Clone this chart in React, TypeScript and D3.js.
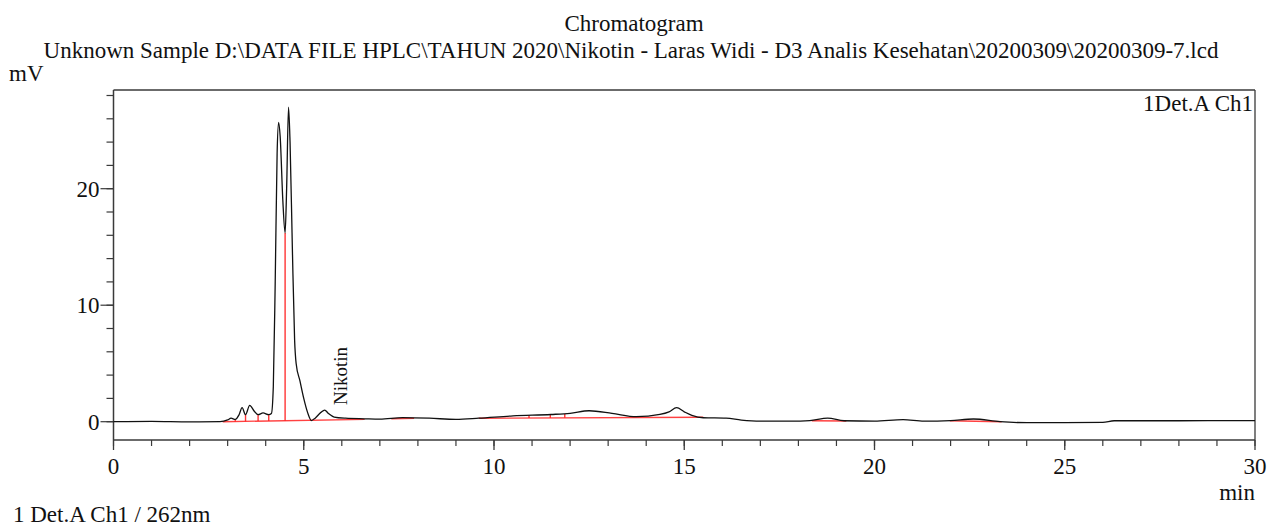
import React from "react";
import * as d3 from "d3";

const TITLE = "Chromatogram";
const SUBTITLE =
  "Unknown Sample D:\\DATA FILE HPLC\\TAHUN 2020\\Nikotin - Laras Widi - D3 Analis Kesehatan\\20200309\\20200309-7.lcd";
const Y_UNIT = "mV";
const X_UNIT = "min";
const CHANNEL_LABEL = "1Det.A Ch1";
const FOOTER = "1 Det.A Ch1 / 262nm";

const X_MAJOR_TICKS = [0, 5, 10, 15, 20, 25, 30];
const X_MINOR_TICKS = d3.range(0, 31, 1);
const Y_MAJOR_TICKS = [0, 10, 20];
const Y_MINOR_TICKS = d3.range(0, 29, 2);

// signal (time in min, mV)
const times = [
  0, 1.0, 2.0, 2.8, 3.0, 3.09, 3.2, 3.3, 3.38, 3.47, 3.58, 3.7, 3.8, 3.93, 4.08, 4.15, 4.2, 4.25, 4.3, 4.34, 4.38,
  4.45, 4.51, 4.55, 4.6, 4.64, 4.7, 4.76, 4.8, 4.9, 5.0, 5.1, 5.2, 5.3, 5.45, 5.55, 5.65, 5.8, 6.1, 6.6, 7.0, 7.6,
  8.3, 9.0, 9.6, 10.5, 11.5, 12.0, 12.5, 13.1, 13.74, 14.36, 14.6, 14.8, 15.0, 15.2, 15.5, 16.1, 16.5, 17.0, 17.8,
  18.3, 18.77, 19.2, 20.0, 20.75, 21.3, 22.0, 22.6, 23.3, 24.0, 25.0, 26.0, 26.3, 28.0, 30.0,
];
const signal = [
  0.0, 0.02, -0.02, 0.0, 0.15, 0.3, 0.2, 0.6, 1.2, 0.6, 1.4, 0.9, 0.6, 0.75, 0.6, 0.7, 3.0, 12.0, 23.0, 25.7, 24.5,
  19.0, 16.2, 20.0, 27.0, 24.0, 15.0, 7.0, 5.0, 3.5, 2.0, 0.8, 0.1, 0.3, 0.8, 1.0, 0.7, 0.4, 0.3, 0.25, 0.22, 0.35,
  0.3, 0.2, 0.3, 0.5, 0.62, 0.72, 0.94, 0.72, 0.43, 0.63, 0.85, 1.2, 0.85, 0.55, 0.34, 0.3, 0.14, 0.05, 0.05, 0.1,
  0.3, 0.08, 0.05, 0.18, 0.05, 0.1, 0.23, 0.0, -0.08, -0.08, -0.05, 0.08, 0.08, 0.1,
];

// integration baselines: start time, start mV, end time, end mV
const baseStartT = [2.87, 7.3, 9.6, 18.35, 21.98];
const baseStartV = [0.0, 0.25, 0.3, 0.08, 0.08];
const baseEndT = [6.6, 7.9, 15.5, 19.26, 23.34];
const baseEndV = [0.2, 0.3, 0.38, 0.06, 0.0];

// drop lines: time and signal mV at the drop
const dropT = [3.2, 3.47, 3.8, 4.08, 4.51, 10.92, 11.48, 11.86];
const dropV = [0.2, 0.6, 0.6, 0.6, 16.2, 0.55, 0.62, 0.66];

const PEAK_NAME = "Nikotin";
const PEAK_T = 5.55;
const PEAK_V = 1.0;

const W = 1269;
const H = 529;
const L = 113.5;
const R = 1255;
const T = 90;
const B = 440;

export default function App() {
  const x = d3.scaleLinear().domain([0, 30]).range([L, R]);
  const y = d3.scaleLinear().domain([0, 28]).range([421.7, 421.7 - 28 * 11.65]);

  const data = times.map((t, i) => [t, signal[i]] as [number, number]);
  const line = d3
    .line<[number, number]>()
    .x((d) => x(d[0]))
    .y((d) => y(d[1]))
    .curve(d3.curveMonotoneX);

  const baseAt = (t: number) => {
    for (let i = 0; i < baseStartT.length; i++) {
      if (t >= baseStartT[i] && t <= baseEndT[i]) {
        const f = (t - baseStartT[i]) / (baseEndT[i] - baseStartT[i]);
        return baseStartV[i] + f * (baseEndV[i] - baseStartV[i]);
      }
    }
    return 0;
  };

  const font = "'Liberation Serif', 'Times New Roman', serif";
  const axisColor = "#3a3a3a";
  const red = "#ff2020";
  const fs = 23;

  return (
    <svg
      width={W}
      height={H}
      style={{ position: "absolute", left: 0, top: 0, background: "#fff" }}
      fontFamily={font}
    >
      <rect x={0} y={0} width={W} height={H} fill="#fff" />
      <text x={634} y={31} fontSize={fs} textAnchor="middle" fill="#111">
        {TITLE}
      </text>
      <text x={631} y={58} fontSize={fs} textAnchor="middle" fill="#111">
        {SUBTITLE}
      </text>
      <text x={9} y={81} fontSize={fs} fill="#111">
        {Y_UNIT}
      </text>

      {/* frame */}
      <line x1={L} x2={R} y1={T} y2={T} stroke={axisColor} strokeWidth={1.3} />
      <line x1={R} x2={R} y1={T} y2={B} stroke={axisColor} strokeWidth={1.3} />
      <line x1={L} x2={L} y1={T} y2={B} stroke={axisColor} strokeWidth={1.5} />
      <line x1={L} x2={R} y1={B} y2={B} stroke={axisColor} strokeWidth={1.5} />

      {/* y ticks */}
      {Y_MINOR_TICKS.map((v) => (
        <line key={"ym" + v} x1={L - 7} x2={L} y1={y(v)} y2={y(v)} stroke={axisColor} strokeWidth={1.2} />
      ))}
      {Y_MAJOR_TICKS.map((v) => (
        <g key={"yM" + v}>
          <line x1={L - 13} x2={L} y1={y(v)} y2={y(v)} stroke={axisColor} strokeWidth={1.2} />
          <text x={L - 14} y={y(v) + 8} fontSize={fs} textAnchor="end" fill="#111">
            {v}
          </text>
        </g>
      ))}

      {/* x ticks */}
      {X_MINOR_TICKS.map((v) => (
        <line key={"xm" + v} x1={x(v)} x2={x(v)} y1={B} y2={B + 6} stroke={axisColor} strokeWidth={1.2} />
      ))}
      {X_MAJOR_TICKS.map((v) => (
        <g key={"xM" + v}>
          <line x1={x(v)} x2={x(v)} y1={B} y2={B + 10} stroke={axisColor} strokeWidth={1.3} />
          <text x={x(v)} y={474} fontSize={fs} textAnchor="middle" fill="#111">
            {v}
          </text>
        </g>
      ))}
      <text x={1255} y={500} fontSize={fs} textAnchor="end" fill="#111">
        {X_UNIT}
      </text>

      <text x={1253} y={111} fontSize={fs} textAnchor="end" fill="#111">
        {CHANNEL_LABEL}
      </text>

      {/* integration baselines */}
      {baseStartT.map((t, i) => (
        <line
          key={"b" + i}
          x1={x(t)}
          x2={x(baseEndT[i])}
          y1={y(baseStartV[i])}
          y2={y(baseEndV[i])}
          stroke={red}
          strokeWidth={1.4}
          opacity={0.85}
        />
      ))}
      {dropT.map((t, i) => (
        <line
          key={"d" + i}
          x1={x(t)}
          x2={x(t)}
          y1={y(baseAt(t))}
          y2={y(dropV[i])}
          stroke={red}
          strokeWidth={1.4}
          opacity={0.9}
        />
      ))}

      {/* signal */}
      <path d={line(data) || ""} fill="none" stroke="#111" strokeWidth={1.3} />

      <text
        transform={`translate(${x(PEAK_T) + 22},${y(PEAK_V) - 5}) rotate(-90)`}
        fontSize={19}
        fill="#111"
      >
        {PEAK_NAME}
      </text>

      <text x={13} y={522} fontSize={fs} fill="#111">
        {FOOTER}
      </text>
    </svg>
  );
}
